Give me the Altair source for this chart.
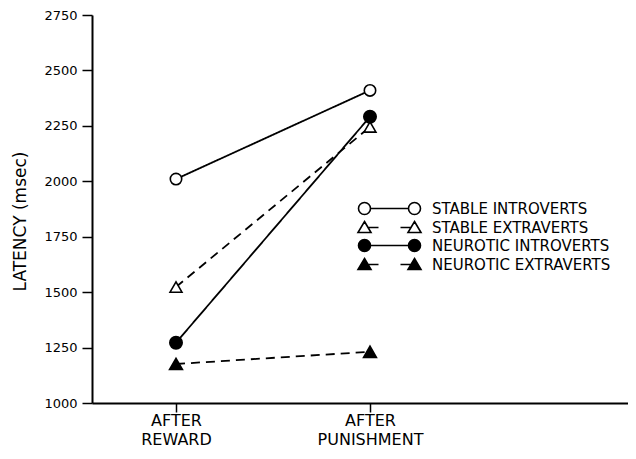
import altair as alt
import pandas as pd

series = ["STABLE INTROVERTS", "STABLE EXTRAVERTS", "NEUROTIC INTROVERTS", "NEUROTIC EXTRAVERTS"]
condition = [1, 2]
condition_labels = ["AFTER|REWARD", "AFTER|PUNISHMENT"]
after_reward = [2010, 1523, 1272, 1176]
after_punishment = [2410, 2245, 2291, 1231]
y_ticks = [1000, 1250, 1500, 1750, 2000, 2250, 2500, 2750]

rows = []
for s, r, p in zip(series, after_reward, after_punishment):
    rows.append({"series": s, "cond": condition[0], "latency": r})
    rows.append({"series": s, "cond": condition[1], "latency": p})
df = pd.DataFrame(rows)

shapes = ["circle", "triangle-up", "circle", "triangle-up"]
fills = ["white", "white", "black", "black"]
strokes = ["black", "black", "black", "black"]
dashes = [[1, 0], [9, 6], [1, 0], [9, 6]]
sizes = [130, 165, 130, 165]


def circ(cx, r=6):
    return f"M {cx - r} 0 A {r} {r} 0 1 0 {cx + r} 0 A {r} {r} 0 1 0 {cx - r} 0 Z "


def tri(cx):
    return f"M {cx} -6 L {cx + 6.5} 5 L {cx - 6.5} 5 Z "


legend_paths = [
    circ(0) + "M 6 0 L 44 0 " + circ(50),
    tri(0) + "M 4 0 L 14 0 M 36 0 L 46 0 " + tri(50),
    circ(0) + "M 6 0 L 44 0 " + circ(50),
    tri(0) + "M 4 0 L 14 0 M 36 0 L 46 0 " + tri(50),
]

label_expr = (
    f"split(datum.value == {condition[0]} ? '{condition_labels[0]}' : '{condition_labels[1]}', '|')"
)

x_enc = alt.X(
    "cond:Q",
    scale=alt.Scale(domain=[0.567, 3.33], nice=False, zero=False),
    axis=alt.Axis(
        values=condition, labelExpr=label_expr, title=None, grid=False,
        tickSize=9, tickWidth=1.5, tickColor="black", labelPadding=0,
        labelFont="DejaVu Sans", labelFontSize=16, labelLineHeight=19,
        labelColor="black", labelAngle=0, domainColor="black", domainWidth=2,
        labelFlush=False, labelOverlap=False,
    ),
)
y_enc = alt.Y(
    "latency:Q",
    scale=alt.Scale(domain=[1000, 2750], nice=False, zero=False),
    axis=alt.Axis(
        values=y_ticks, format="d", title="LATENCY (msec)", grid=False,
        tickSize=10, tickWidth=1.5, tickColor="black", labelPadding=5,
        labelFont="DejaVu Sans", labelFontSize=13, labelColor="black",
        domainColor="black", domainWidth=2,
        titleFont="DejaVu Sans", titleFontSize=17, titleFontWeight="normal",
        titleColor="black", titleAngle=270, titleX=-72, titleY=206,
        titleAlign="center", titleBaseline="middle", labelFlush=False,
    ),
)

base = alt.Chart(df)

lines = base.mark_line(color="black", strokeWidth=1.8).encode(
    x=x_enc, y=y_enc, detail="series:N",
    strokeDash=alt.StrokeDash("series:N", scale=alt.Scale(domain=series, range=dashes), legend=None),
)

points = base.mark_point(filled=True, stroke="black", strokeWidth=1.6, opacity=1).encode(
    x=x_enc, y=y_enc,
    shape=alt.Shape("series:N", scale=alt.Scale(domain=series, range=shapes), legend=None),
    fill=alt.Fill("series:N", scale=alt.Scale(domain=series, range=fills), legend=None),
    size=alt.Size("series:N", scale=alt.Scale(domain=series, range=sizes), legend=None),
)

leg = alt.Legend(
    title=None, orient="none", legendX=265, legendY=186, padding=0,
    symbolSize=4, symbolStrokeWidth=1.6,
    labelFont="DejaVu Sans", labelFontSize=15, labelColor="black", labelLimit=400,
    labelOffset=60, rowPadding=0, symbolOffset=0,
)

legend_layer = base.transform_filter("false").mark_point(
    filled=True, strokeWidth=1.6, opacity=1, size=4
).encode(
    x=x_enc, y=y_enc,
    shape=alt.Shape("series:N", scale=alt.Scale(domain=series, range=legend_paths), legend=leg),
    fill=alt.Fill("series:N", scale=alt.Scale(domain=series, range=fills), legend=leg),
    stroke=alt.Stroke("series:N", scale=alt.Scale(domain=series, range=strokes), legend=leg),
)

chart = (
    alt.layer(lines, points, legend_layer)
    .resolve_scale(shape="independent", fill="independent", size="independent",
                   strokeDash="independent", stroke="independent")
    .resolve_legend(shape="independent", fill="independent", stroke="independent")
    .properties(
        width=536, height=388,
        autosize=alt.AutoSizeParams(type="none"),
        padding={"left": 84, "top": 7, "right": 0, "bottom": 48},
        background="white",
    )
    .configure_view(stroke=None)
)

chart.save("out.html", embed_options={"renderer": "svg", "actions": False})
